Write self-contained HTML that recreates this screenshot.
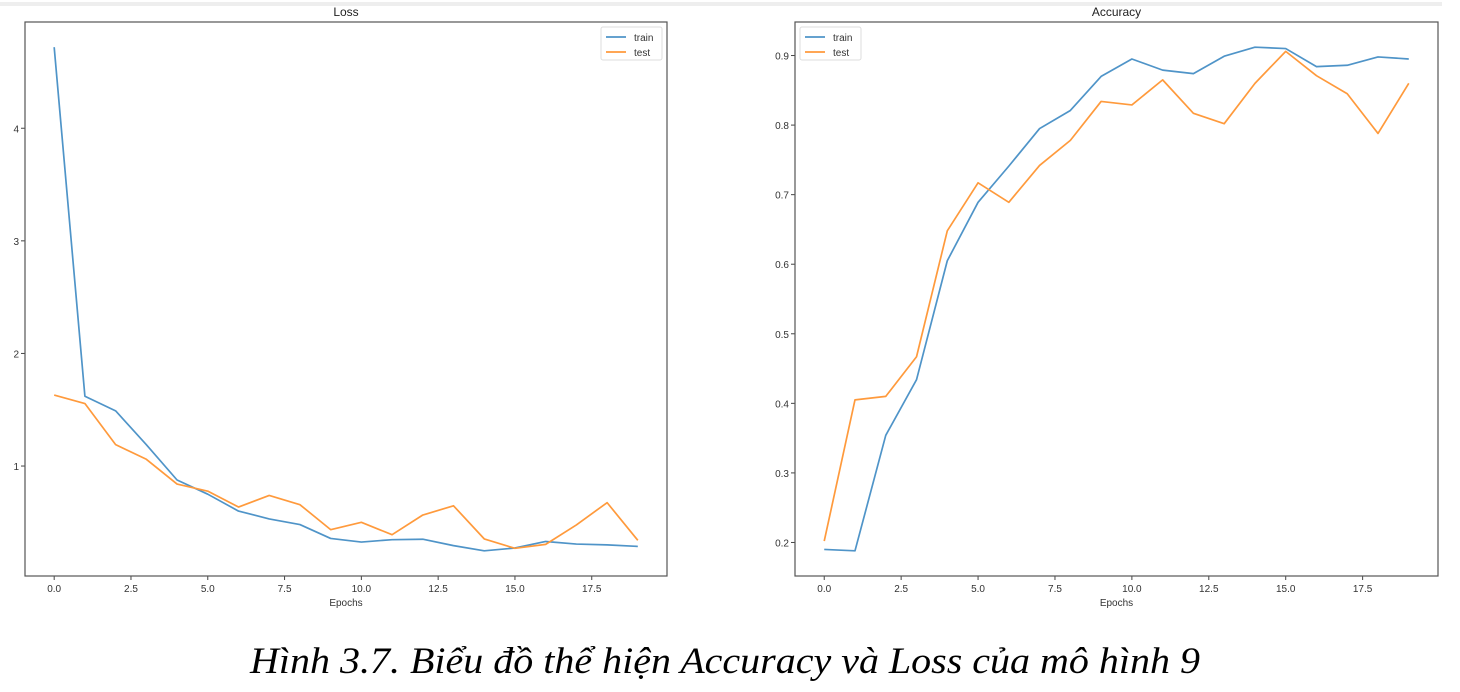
<!DOCTYPE html>
<html><head><meta charset="utf-8"><style>
body{margin:0;background:#fff;}
svg{display:block;}
</style></head><body>
<svg id="root" width="1460" height="692" xmlns="http://www.w3.org/2000/svg">
<rect x="0" y="0" width="1460" height="692" fill="#fff"/>
<rect x="0" y="2" width="1442" height="4" fill="#eeeeee"/>
<g id="lossChart"></g>
<g id="accChart"></g>
<text x="250" y="673" textLength="950" lengthAdjust="spacingAndGlyphs" font-family="Liberation Serif, serif" font-style="italic" font-size="37" fill="#000">Hình 3.7. Biểu đồ thể hiện Accuracy và Loss của mô hình 9</text>
</svg>
<script>
const epochs = [0,1,2,3,4,5,6,7,8,9,10,11,12,13,14,15,16,17,18,19];
const lossTrain = [4.72,1.62,1.49,1.19,0.876,0.75,0.60,0.53,0.48,0.357,0.325,0.346,0.35,0.293,0.247,0.272,0.33,0.307,0.30,0.286];
const lossTest = [1.63,1.555,1.19,1.06,0.84,0.777,0.636,0.739,0.657,0.435,0.50,0.39,0.565,0.647,0.353,0.269,0.304,0.477,0.675,0.34];
const accTrain = [0.19,0.188,0.354,0.434,0.605,0.689,0.741,0.795,0.821,0.870,0.895,0.879,0.874,0.899,0.912,0.910,0.884,0.886,0.898,0.895];
const accTest = [0.202,0.405,0.410,0.467,0.648,0.717,0.689,0.742,0.778,0.834,0.829,0.865,0.817,0.802,0.860,0.906,0.871,0.845,0.788,0.860];
const xTicks = [0,2.5,5,7.5,10,12.5,15,17.5];
const xTickLabels = ["0.0","2.5","5.0","7.5","10.0","12.5","15.0","17.5"];
const lossTicks = [1,2,3,4];
const lossTickLabels = ["1","2","3","4"];
const accTicks = [0.2,0.3,0.4,0.5,0.6,0.7,0.8,0.9];
const accTickLabels = ["0.2","0.3","0.4","0.5","0.6","0.7","0.8","0.9"];
const seriesNames = ["train","test"];

const NS="http://www.w3.org/2000/svg";
function mk(parent,tag,attrs){const e=document.createElementNS(NS,tag);for(const k in attrs)e.setAttribute(k,attrs[k]);parent.appendChild(e);return e;}
function pad(arrs){let mn=Infinity,mx=-Infinity;arrs.forEach(a=>a.forEach(v=>{mn=Math.min(mn,v);mx=Math.max(mx,v);}));const m=(mx-mn)*0.05;return [mn-m,mx+m];}

function draw(gid,box,title,tr,te,yt,ytl,legLeft,prefix){
  const g=document.getElementById(gid);
  const xd=[epochs[0]-0.95,epochs[epochs.length-1]+0.95];
  const yd=pad([tr,te]);
  const X=v=>box.x0+(v-xd[0])/(xd[1]-xd[0])*(box.x1-box.x0);
  const Y=v=>box.y1-(v-yd[0])/(yd[1]-yd[0])*(box.y1-box.y0);
  const font="Liberation Sans, DejaVu Sans, sans-serif";
  let t=mk(g,'text',{x:(box.x0+box.x1)/2,y:box.y0-6,'text-anchor':'middle','font-family':font,'font-size':12,fill:'#222'});
  t.textContent=title;
  
  
  xTicks.forEach((v,i)=>{
    const x=X(v);
    const tk=mk(g,'line',{x1:x,x2:x,y1:box.y1,y2:box.y1+4,stroke:'#444','stroke-width':1});
    
    
    const l=mk(g,'text',{x:x,y:box.y1+16,'text-anchor':'middle','font-family':font,'font-size':10,fill:'#333'});
    l.textContent=xTickLabels[i];
    
    
  });
  yt.forEach((v,i)=>{
    const y=Y(v);
    const tk=mk(g,'line',{x1:box.x0-4,x2:box.x0,y1:y,y2:y,stroke:'#444','stroke-width':1});
    
    
    const l=mk(g,'text',{x:box.x0-6,y:y+4,'text-anchor':'end','font-family':font,'font-size':10,fill:'#333'});
    l.textContent=ytl[i];
    
    
  });
  const xl=mk(g,'text',{x:(box.x0+box.x1)/2,y:box.y1+30,'text-anchor':'middle','font-family':font,'font-size':10,fill:'#333'});
  xl.textContent="Epochs";
  
  
  const cols=['#4f94c8','#ff9a3c'];
  [tr,te].forEach((s,si)=>{
    const p=mk(g,'polyline',{points:s.map((v,i)=>X(epochs[i])+','+Y(v)).join(' '),fill:'none',stroke:cols[si],'stroke-width':1.7,'stroke-linejoin':'round'});
    
    
  });
  const fr=mk(g,'rect',{x:box.x0,y:box.y0,width:box.x1-box.x0,height:box.y1-box.y0,fill:'none',stroke:'#555','stroke-width':1.2});
  
  
  const lg=mk(g,'g',{});
  
  
  mk(lg,'rect',{x:legLeft,y:box.y0+5,width:61,height:33,rx:2,fill:'#fff',stroke:'#ddd','stroke-width':1});
  seriesNames.forEach((n,i)=>{
    const y=box.y0+15+i*15;
    const ln=mk(lg,'line',{x1:legLeft+5,x2:legLeft+25,y1:y,y2:y,stroke:cols[i],'stroke-width':1.7});
    
    
    const tx=mk(lg,'text',{x:legLeft+33,y:y+4,'font-family':font,'font-size':10,fill:'#333'});
    tx.textContent=n;
    
    
  });
}
draw('lossChart',{x0:25,x1:667,y0:22,y1:576},'Loss',lossTrain,lossTest,lossTicks,lossTickLabels,601,'loss');
draw('accChart',{x0:795,x1:1438,y0:22,y1:576},'Accuracy',accTrain,accTest,accTicks,accTickLabels,800,'accuracy');
</script>
</body></html>
